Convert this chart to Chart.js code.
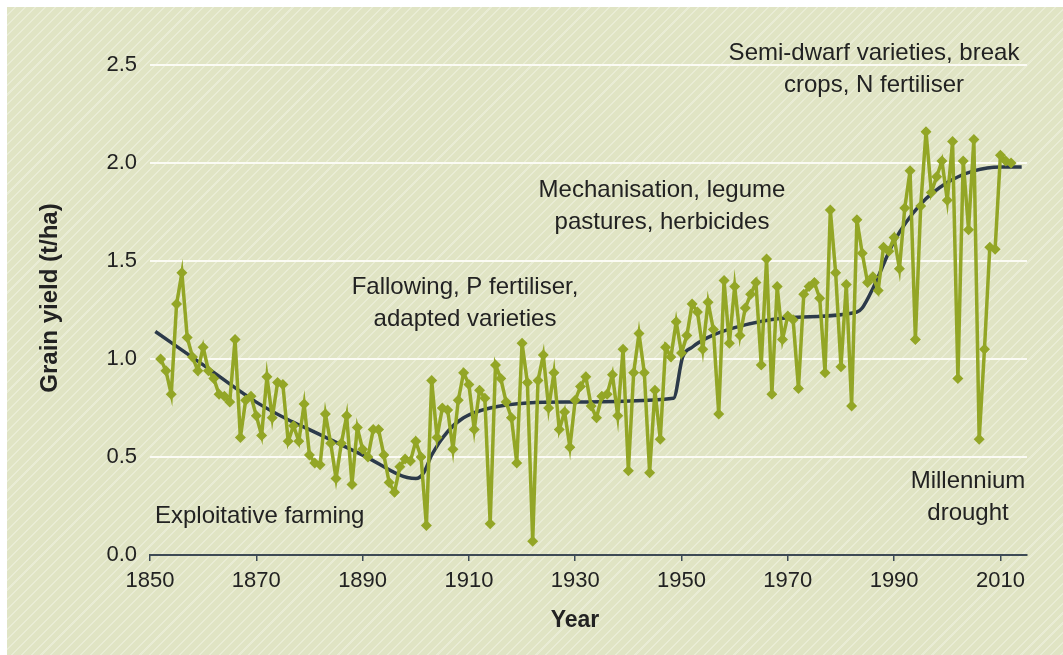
<!DOCTYPE html>
<html>
<head>
<meta charset="utf-8">
<script src="https://cdn.jsdelivr.net/npm/chart.js@4/dist/chart.umd.min.js"></script>
<style>
  html, body { margin: 0; padding: 0; background: #fff; }
  #wrap {
    position: absolute; left: 0; top: 0; width: 1063px; height: 655px;
  }
  #panel {
    position: absolute; left: 7px; top: 7px; width: 1056px; height: 648px;
    background: repeating-linear-gradient(135deg, #e0e4c4 0px, #e0e4c4 5.5px, #e9ecd5 5.5px, #e9ecd5 7px);
  }
  canvas { position: absolute; left: 0; top: 0; }
</style>
</head>
<body>
<div id="wrap">
  <div id="panel"></div>
  <canvas id="chart" width="1063" height="655"></canvas>
</div>
<script>
// annual grain yield (t/ha), first value is 1852
const firstYear = 1852;
const yieldValues = [
  1.00, 0.94, 0.82, 1.28, 1.44, 1.11, 1.01, 0.94, 1.06, 0.94,   // 1852-1861
  0.90, 0.82, 0.81, 0.78, 1.10, 0.60, 0.79, 0.81, 0.71, 0.61,   // 1862-1871
  0.91, 0.70, 0.88, 0.87, 0.58, 0.66, 0.58, 0.77, 0.51, 0.47,   // 1872-1881
  0.46, 0.72, 0.57, 0.39, 0.57, 0.71, 0.36, 0.65, 0.54, 0.50,   // 1882-1891
  0.64, 0.64, 0.51, 0.37, 0.32, 0.45, 0.49, 0.48, 0.58, 0.50,   // 1892-1901
  0.15, 0.89, 0.60, 0.75, 0.74, 0.54, 0.79, 0.93, 0.87, 0.64,   // 1902-1911
  0.84, 0.80, 0.16, 0.97, 0.90, 0.78, 0.70, 0.47, 1.08, 0.88,   // 1912-1921
  0.07, 0.89, 1.02, 0.75, 0.93, 0.64, 0.73, 0.55, 0.79, 0.86,   // 1922-1931
  0.91, 0.76, 0.70, 0.81, 0.82, 0.92, 0.71, 1.05, 0.43, 0.93,   // 1932-1941
  1.13, 0.93, 0.42, 0.84, 0.59, 1.06, 1.01, 1.19, 1.03, 1.12,   // 1942-1951
  1.28, 1.24, 1.05, 1.29, 1.15, 0.72, 1.40, 1.08, 1.37, 1.12,   // 1952-1961
  1.26, 1.33, 1.39, 0.97, 1.51, 0.82, 1.37, 1.10, 1.22, 1.20,   // 1962-1971
  0.85, 1.33, 1.37, 1.39, 1.31, 0.93, 1.76, 1.44, 0.96, 1.38,   // 1972-1981
  0.76, 1.71, 1.54, 1.39, 1.42, 1.35, 1.57, 1.55, 1.62, 1.46,   // 1982-1991
  1.77, 1.96, 1.10, 1.78, 2.16, 1.85, 1.93, 2.01, 1.81, 2.11,   // 1992-2001
  0.90, 2.01, 1.66, 2.12, 0.59, 1.05, 1.57, 1.56, 2.04, 2.01,   // 2002-2011
  2.00                                                          // 2012
];

// smoothed trend
const trendYears  = [1851, 1860, 1870, 1876, 1880, 1890, 1900, 1901.5, 1903, 1906, 1909, 1914, 1928, 1948.5, 1950.2, 1952, 1955, 1960, 1970, 1983, 1984, 1986, 1990, 1995, 2000, 2005, 2010, 2014];
const trendValues = [1.14, 0.97, 0.78, 0.69, 0.64, 0.51, 0.39, 0.42, 0.51, 0.63, 0.70, 0.75, 0.78, 0.80, 1.01, 1.06, 1.11, 1.16, 1.21, 1.24, 1.26, 1.36, 1.60, 1.79, 1.90, 1.96, 1.98, 1.98];

const xTicks = [1850, 1870, 1890, 1910, 1930, 1950, 1970, 1990, 2010];
const yTicks = [0, 0.5, 1.0, 1.5, 2.0, 2.5];

const notes = [
  { lines: ["Semi-dwarf varieties, break", "crops, N fertiliser"], x: 874, y: 53, align: "center" },
  { lines: ["Mechanisation, legume", "pastures, herbicides"], x: 662, y: 190, align: "center" },
  { lines: ["Fallowing, P fertiliser,", "adapted varieties"], x: 465, y: 287, align: "center" },
  { lines: ["Exploitative farming"], x: 155, y: 516, align: "left" },
  { lines: ["Millennium", "drought"], x: 968, y: 481, align: "center" }
];

const green = "#93a626";
const navy = "#2c3a4a";
const ink = "#222222";

const yieldPoints = yieldValues.map((v, i) => ({ x: firstYear + i, y: v }));
const trendPoints = trendYears.map((yr, i) => ({ x: yr, y: trendValues[i] }));

const textPlugin = {
  id: "texts",
  afterDraw(chart) {
    const ctx = chart.ctx;
    ctx.save();
    ctx.fillStyle = ink;
    ctx.textBaseline = "middle";
    ctx.font = "24px 'Liberation Sans', Arial, sans-serif";
    notes.forEach((n) => {
      ctx.textAlign = n.align;
      n.lines.forEach((t, i) => ctx.fillText(t, n.x, n.y + i * 32));
    });
    // axis titles
    ctx.textAlign = "center";
    ctx.font = "bold 23px 'Liberation Sans', Arial, sans-serif";
    ctx.fillText("Year", 575, 621);
    ctx.font = "bold 24px 'Liberation Sans', Arial, sans-serif";
    ctx.translate(50, 298);
    ctx.rotate(-Math.PI / 2);
    ctx.fillText("Grain yield (t/ha)", 0, 0);
    ctx.restore();
  }
};

new Chart(document.getElementById("chart"), {
  type: "line",
  data: {
    datasets: [
      {
        label: "Yield",
        data: yieldPoints,
        borderColor: green,
        backgroundColor: green,
        borderWidth: 3.5,
        pointStyle: "rectRot",
        pointRadius: 5.5,
        pointBorderWidth: 0,
        tension: 0,
        order: 1
      },
      {
        label: "Trend",
        data: trendPoints,
        borderColor: navy,
        borderWidth: 3.5,
        pointRadius: 0,
        cubicInterpolationMode: "monotone",
        order: 2
      }
    ]
  },
  options: {
    responsive: false,
    animation: false,
    layout: { padding: { left: 0, right: 36, top: 65, bottom: 0 } },
    plugins: { legend: { display: false }, tooltip: { enabled: false } },
    scales: {
      x: {
        type: "linear",
        min: 1850,
        max: 2015,
        afterBuildTicks: (scale) => { scale.ticks = xTicks.map((v) => ({ value: v })); },
        afterFit: (scale) => { scale.height = 100; },
        border: { color: "#3d4a55", width: 2 },
        grid: { drawOnChartArea: false, drawTicks: true, tickLength: 6, color: "#3d4a55", lineWidth: 1.5 },
        ticks: {
          padding: 7,
          color: ink,
          font: { family: "'Liberation Sans', Arial, sans-serif", size: 22 },
          maxRotation: 0,
          callback: (v) => String(v)
        }
      },
      y: {
        min: 0,
        max: 2.5,
        afterBuildTicks: (scale) => { scale.ticks = yTicks.map((v) => ({ value: v })); },
        afterFit: (scale) => { scale.width = 150; },
        border: { display: false },
        grid: {
          drawTicks: false,
          lineWidth: 2,
          color: (c) => (c.tick && c.tick.value === 0 ? "rgba(0,0,0,0)" : "#fbfbf4")
        },
        ticks: {
          padding: 13,
          color: ink,
          font: { family: "'Liberation Sans', Arial, sans-serif", size: 22 },
          callback: (v) => Number(v).toFixed(1)
        }
      }
    }
  },
  plugins: [textPlugin]
});
</script>
</body>
</html>
